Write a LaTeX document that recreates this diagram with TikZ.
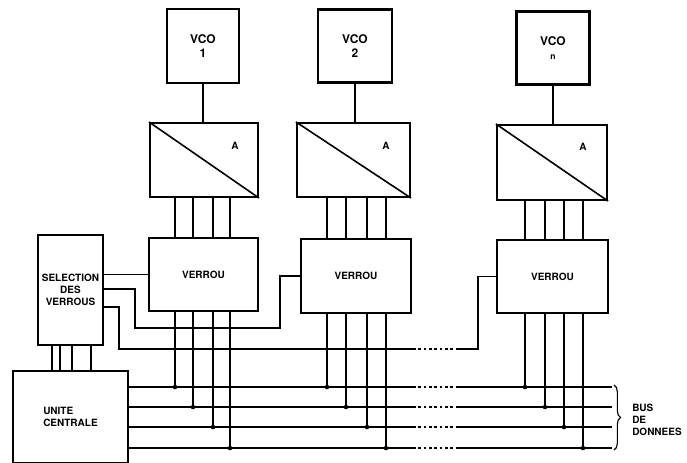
\documentclass[tikz,border=0pt]{standalone}
\usepackage{fontspec}
\setmainfont{TeX Gyre Heros}
\usetikzlibrary{decorations.pathreplacing}
\begin{document}
\begin{tikzpicture}[x=0.75pt,y=-0.75pt,
 blk/.style={draw, line width=1.6pt, inner sep=0pt, align=center, font=\bfseries\fontsize{7.5}{9}\selectfont},
 sz/.style 2 args={minimum width=#1*0.75pt, minimum height=#2*0.75pt},
 vco/.style={font=\bfseries\fontsize{9}{10}\selectfont},
 wire/.style={line width=0.85pt},
 gap/.style={line width=0.85pt, dash pattern=on 2pt off 2pt},
 lbl/.style={font=\bfseries\fontsize{7.5}{9}\selectfont, inner sep=0pt}]
\useasboundingbox (0,0) rectangle (687,462);
\clip (0,0) rectangle (687,462);

% VCO blocks
\node[blk,vco,sz={72}{74}] (vco1) at (203,46) {VCO\\1};
\node[blk,vco,sz={74}{73}] (vco2) at (355,46) {VCO\\2};
\node[blk,vco,sz={73}{73}] (vcon) at (553,48) {VCO\\{\fontsize{6.5}{8}\selectfont n}};

% converters
\node[blk,sz={108}{74}] (dac1) at (204,160) {};
\node[blk,sz={113}{74}] (dac2) at (353.5,160) {};
\node[blk,sz={110}{75}] (dacn) at (552,162.5) {};
\foreach \d in {dac1,dac2,dacn}
  \draw[line width=1.2pt] (\d.north west) -- (\d.south east);
\node[lbl] (a1) at (235,146) {A};
\node[lbl] (a2) at (386,146) {A};
\node[lbl] (an) at (583,147) {A};

% latches
\node[blk,sz={109}{73}] (ver1) at (203.5,274.5) {VERROU};
\node[blk,sz={110}{74}] (ver2) at (356,276) {VERROU};
\node[blk,sz={111}{73}] (vern) at (552.5,276.5) {VERROU};

% selection and CPU
\node[blk,sz={65}{110}] (sel) at (70.5,290) {SELECTION\\DES\\VERROUS};
\node[blk,sz={115}{92},align=left] (uc) at (70.5,417) {UNITE\\CENTRALE};

% VCO to converters
\draw[wire] (vco1.south) -- (vco1.south |- dac1.north);
\draw[wire] (vco2.south) -- (vco2.south |- dac2.north);
\draw[wire] (vcon.south) -- (vcon.south |- dacn.north);

% converters to latches
\foreach \x in {175,193,213,230} \draw[wire] (dac1.south -| \x,0) -- (ver1.north -| \x,0);
\foreach \x in {327,346,367,386} \draw[wire] (dac2.south -| \x,0) -- (ver2.north -| \x,0);
\foreach \x in {525,545,564,583} \draw[wire] (dacn.south -| \x,0) -- (vern.north -| \x,0);

% data bus
\foreach \y in {387,407,427,448} {
  \draw[wire] (uc.east |- 0,\y) -- (413,\y);
  \draw[gap] (413,\y) -- (457,\y);
  \draw[wire] (457,\y) -- (612,\y);
}

% latch inputs from bus
\foreach \x/\y in {175/387,193/407,213/427,230/448} {
  \draw[wire] (ver1.south -| \x,0) -- (\x,\y);
  \fill (\x,\y) circle (1.7pt);
}
\foreach \x/\y in {327/387,346/407,367/427,386/448} {
  \draw[wire] (ver2.south -| \x,0) -- (\x,\y);
  \fill (\x,\y) circle (1.7pt);
}
\foreach \x/\y in {525/387,545/407,564/427,583/448} {
  \draw[wire] (vern.south -| \x,0) -- (\x,\y);
  \fill (\x,\y) circle (1.7pt);
}

% selection lines
\draw[wire] (sel.east |- ver1.west) -- (ver1.west);
\draw[wire] (sel.east |- 0,289) -- (135,289) -- (135,328) -- (280,328) |- (ver2.west);
\draw[wire] (sel.east |- 0,307) -- (119,307) -- (119,349) -- (413,349);
\draw[gap] (413,349) -- (457,349);
\draw[wire] (457,349) -- (478,349) |- (vern.west);

% selection to CPU
\foreach \x in {52,60,72,91} \draw[wire] (sel.south -| \x,0) -- (uc.north -| \x,0);

% brace and label
\draw[wire, decorate, decoration={brace, amplitude=5pt}] (614,385) -- (614,450);
\node[lbl, anchor=west, align=left] (bus) at (632,420) {BUS\\DE\\DONNEES};
\end{tikzpicture}
\end{document}
